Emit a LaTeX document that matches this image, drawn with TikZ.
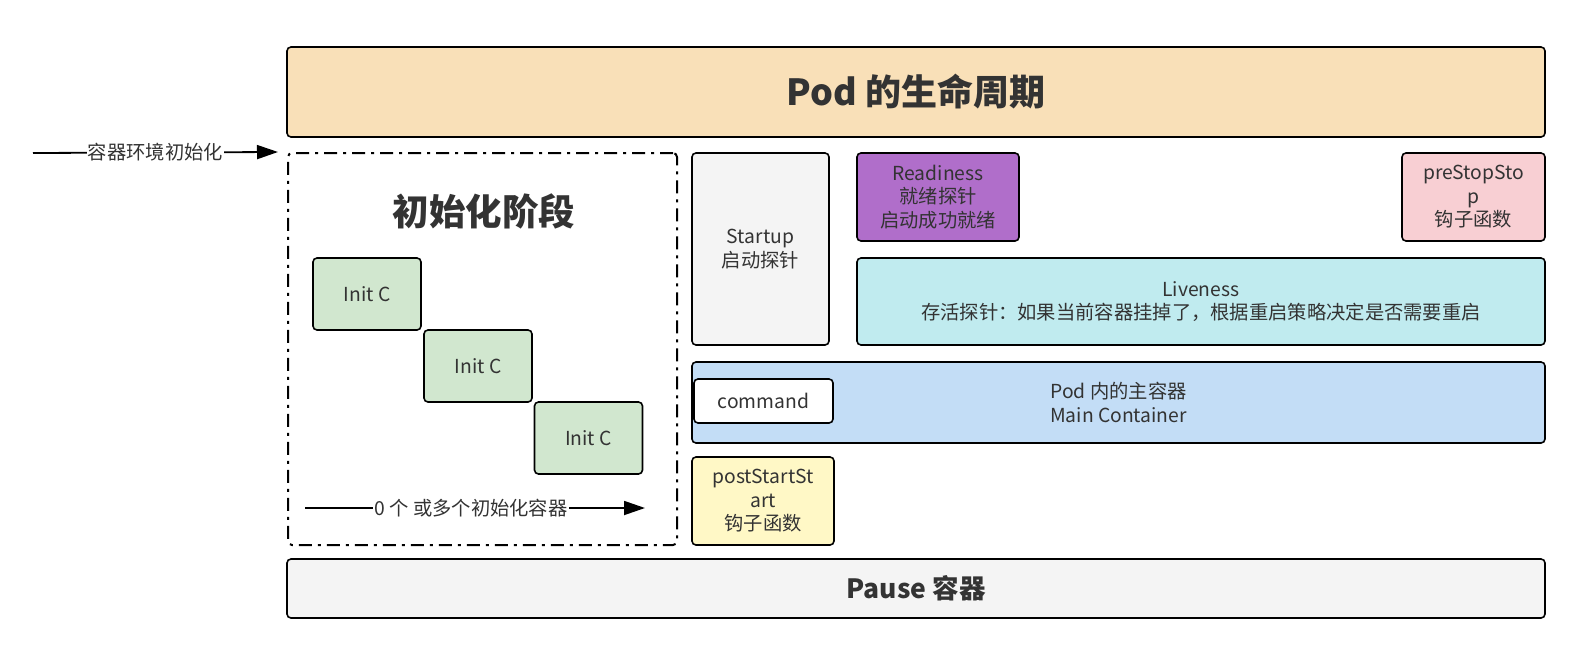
\documentclass[tikz,border=0pt]{standalone}
\usepackage{fontspec}
\setmainfont{Noto Sans CJK SC}
\usetikzlibrary{arrows.meta}

\definecolor{txtgray}{HTML}{333333}
\definecolor{podorange}{HTML}{F9E0B8}
\definecolor{pausegray}{HTML}{F4F4F4}
\definecolor{initgreen}{HTML}{D1E7CF}
\definecolor{readypurple}{HTML}{B06ECA}
\definecolor{liveblue}{HTML}{C0EBEF}
\definecolor{mainblue}{HTML}{C3DDF6}
\definecolor{stoppink}{HTML}{F8CFD3}
\definecolor{startyellow}{HTML}{FFF8C6}

\tikzset{
  box/.style={draw=black, line width=1.6pt, rounded corners=4pt, align=center,
    text=txtgray, inner sep=2pt, font=\fontsize{19.3}{23.5}\selectfont},
  flow/.style={line width=1.8pt, ->, >={Triangle[length=21pt,width=14pt]}},
  flowlabel/.style={fill=white, inner sep=1pt, text=txtgray, font=\fontsize{19.3}{22}\selectfont}
}

\begin{document}
\begin{tikzpicture}[x=1pt, y=-1pt]
\useasboundingbox (0,0) rectangle (1588,670);

% top and bottom bars
\node[box, fill=podorange, minimum width=1258pt, minimum height=90pt,
  font=\fontsize{36}{42}\selectfont\bfseries] (pod) at (916,92) {Pod 的生命周期};
\node[box, fill=pausegray, minimum width=1258pt, minimum height=59pt,
  font=\fontsize{26.5}{30}\selectfont\bfseries] (pause) at (916,588.5) {Pause 容器};

% init phase
\node[draw=black, line width=2pt, rounded corners=4pt,
  dash pattern=on 13pt off 6pt on 3pt off 6pt,
  minimum width=389pt, minimum height=392pt] (initframe) at (482.5,349) {};
\node[text=txtgray, font=\fontsize{36.5}{40}\selectfont\bfseries] (inittitle) at (484,211) {初始化阶段};
\node[box, fill=initgreen, minimum width=108pt, minimum height=72pt] (initA) at (367,294) {Init C};
\node[box, fill=initgreen, minimum width=108pt, minimum height=72pt] (initB) at (478,366) {Init C};
\node[box, fill=initgreen, minimum width=108pt, minimum height=72pt] (initC) at (588.5,438) {Init C};

\coordinate (envstart) at (33,153);
\draw[flow] (envstart) -- ([xshift=-9pt]initframe.north west)
  node[midway, flowlabel] {容器环境初始化};
\coordinate (seqstart) at (305,508);
\coordinate (seqend) at (645,508);
\draw[flow] (seqstart) -- (seqend) node[midway, flowlabel, xshift=-4pt] {0 个 或多个初始化容器};

% probes and main container
\node[box, fill=pausegray, minimum width=137pt, minimum height=192pt] (startup) at (760.5,249) {Startup\\启动探针};
\node[box, fill=readypurple, minimum width=162pt, minimum height=88pt] (readiness) at (938,197) {Readiness\\就绪探针\\启动成功就绪};
\node[box, fill=stoppink, minimum width=143pt, minimum height=88pt] (prestop) at (1473.5,197) {preStopSto\\p\\钩子函数};
\node[box, fill=liveblue, minimum width=688pt, minimum height=87pt] (liveness) at (1201,301.5)
  {Liveness\\存活探针：如果当前容器挂掉了，根据重启策略决定是否需要重启};
\node[box, fill=mainblue, minimum width=853pt, minimum height=81pt] (main) at (1118.5,402.5) {Pod 内的主容器\\Main Container};
\node[box, fill=white, minimum width=139pt, minimum height=44pt] (command) at (763.5,401) {command};
\node[box, fill=startyellow, minimum width=142pt, minimum height=88pt] (poststart) at (763,501) {postStartSt\\art\\钩子函数};
\end{tikzpicture}
\end{document}
